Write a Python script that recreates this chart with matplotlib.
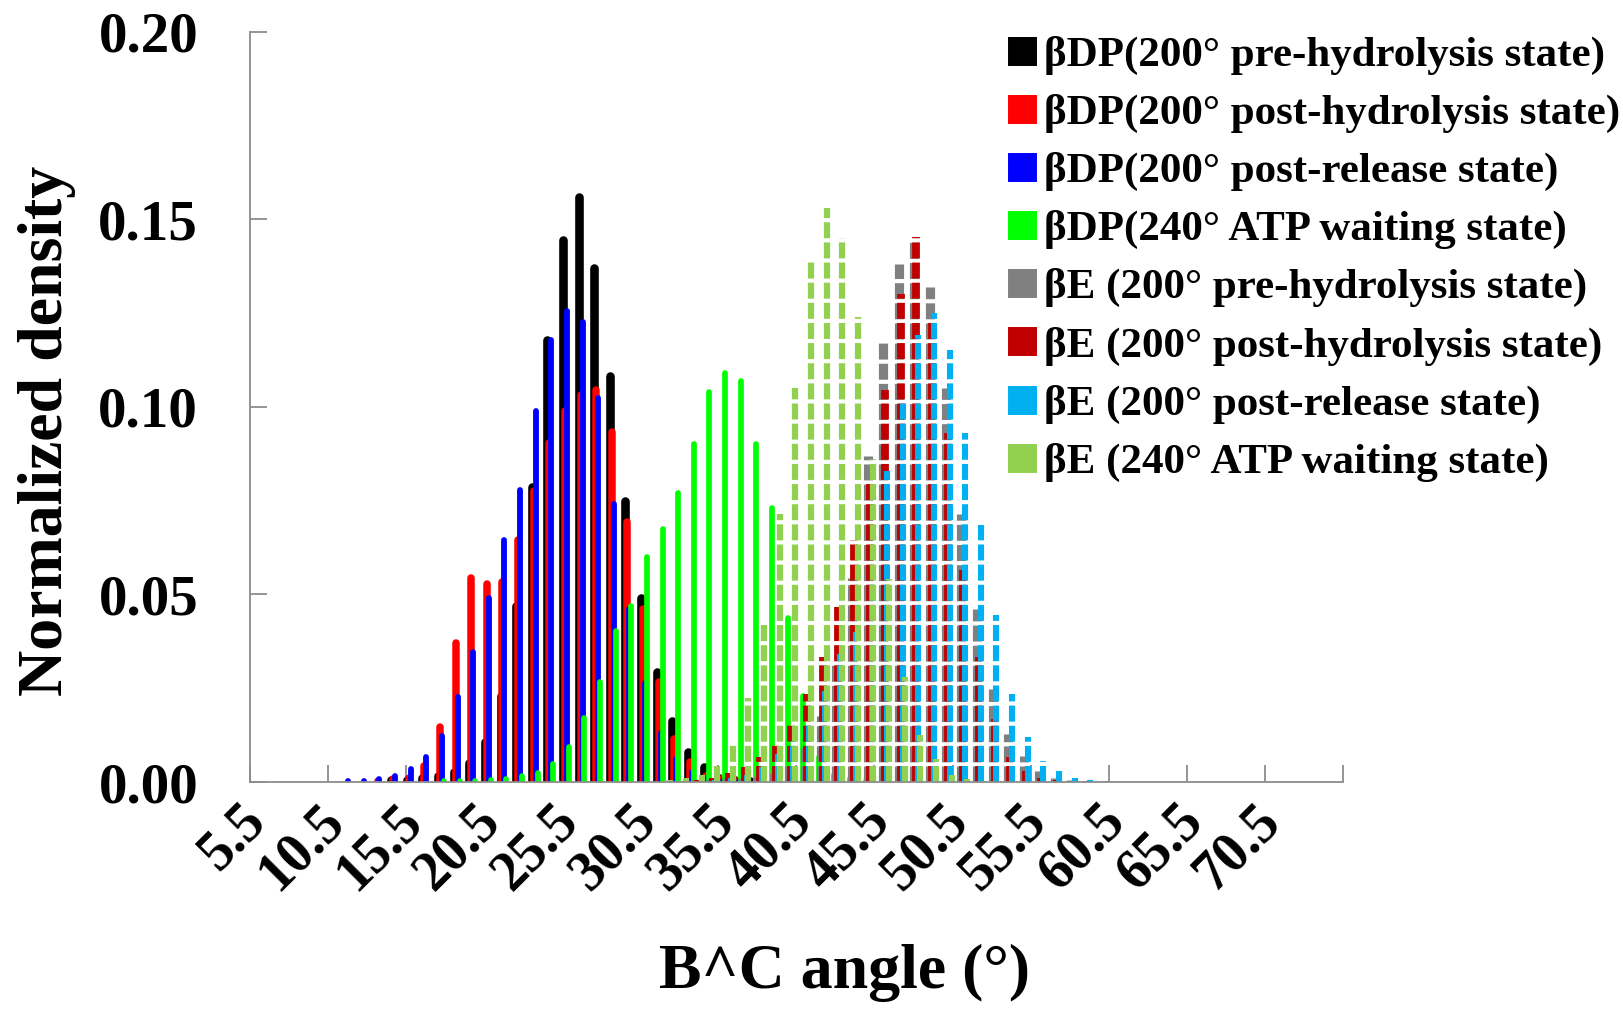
import matplotlib

matplotlib.use("Agg")
import matplotlib.pyplot as plt  # noqa: E402
import numpy as np  # noqa: E402
from matplotlib.lines import Line2D  # noqa: E402

# bin centres (degrees), one column per series in each bin
angles = np.arange(11.5, 61.0, 1.0)

dp_pre = [0, 0, 0, 0.0005, 0.0005, 0.0010, 0.0016, 0.0027, 0.0050, 0.0106,
          0.0228, 0.0470, 0.0786, 0.1178, 0.1444, 0.1559, 0.1369, 0.1082, 0.0750, 0.0490,
          0.0292, 0.0163, 0.0080, 0.0039, 0.0012, 0.0005, 0.0002, 0, 0, 0,
          0, 0, 0, 0, 0, 0, 0, 0, 0, 0,
          0, 0, 0, 0, 0, 0, 0, 0, 0, 0]
dp_post = [0, 0, 0.0003, 0.0008, 0.0010, 0.0044, 0.0148, 0.0370, 0.0544, 0.0527,
           0.0532, 0.0645, 0.0775, 0.0903, 0.0988, 0.1032, 0.1045, 0.0932, 0.0693, 0.0462,
           0.0266, 0.0114, 0.0054, 0.0017, 0.0008, 0.0003, 0, 0, 0, 0,
           0, 0, 0, 0, 0, 0, 0, 0, 0, 0,
           0, 0, 0, 0, 0, 0, 0, 0, 0, 0]
dp_release = [0.0003, 0.0003, 0.0009, 0.0015, 0.0035, 0.0068, 0.0122, 0.0226, 0.0346, 0.0490,
              0.0645, 0.0777, 0.0988, 0.1178, 0.1256, 0.1227, 0.1023, 0.0741, 0.0460, 0.0263,
              0.0132, 0.0061, 0.0026, 0.0010, 0.0004, 0.0002, 0, 0, 0, 0,
              0, 0, 0, 0, 0, 0, 0, 0, 0, 0,
              0, 0, 0, 0, 0, 0, 0, 0, 0, 0]
dp_240 = [0, 0, 0, 0, 0, 0, 0.0002, 0.0002, 0.0003, 0.0005,
          0.0008, 0.0016, 0.0025, 0.0048, 0.0093, 0.0170, 0.0266, 0.0402, 0.0470, 0.0600,
          0.0675, 0.0770, 0.0900, 0.1040, 0.1090, 0.1070, 0.0900, 0.0731, 0.0436, 0.0228,
          0.0068, 0.0020, 0.0008, 0.0003, 0, 0, 0, 0, 0, 0,
          0, 0, 0, 0, 0, 0, 0, 0, 0, 0]
e_pre = [0, 0, 0, 0, 0, 0, 0, 0, 0, 0,
         0, 0, 0, 0, 0, 0, 0, 0, 0, 0,
         0, 0.0003, 0.0005, 0.0008, 0.0010, 0.0012, 0.0015, 0.0025, 0.0050, 0.0090,
         0.0176, 0.0323, 0.0543, 0.0868, 0.1170, 0.1380, 0.1440, 0.1320, 0.1050, 0.0713,
         0.0460, 0.0249, 0.0128, 0.0070, 0.0030, 0.0012, 0.0006, 0.0003, 0.0002, 0.0002]
e_post = [0, 0, 0, 0, 0, 0, 0, 0, 0, 0,
          0, 0, 0, 0, 0, 0, 0, 0, 0, 0,
          0, 0, 0.0005, 0.0010, 0.0025, 0.0040, 0.0066, 0.0098, 0.0155, 0.0235,
          0.0333, 0.0466, 0.0645, 0.0801, 0.1045, 0.1300, 0.1453, 0.1230, 0.0930, 0.0566,
          0.0332, 0.0168, 0.0066, 0.0030, 0.0012, 0.0006, 0.0004, 0.0002, 0, 0]
e_release = [0, 0, 0, 0, 0, 0, 0, 0, 0, 0,
             0, 0, 0, 0, 0, 0, 0, 0, 0, 0,
             0, 0, 0, 0.0005, 0.0010, 0.0020, 0.0040, 0.0075, 0.0110, 0.0160,
             0.0243, 0.0340, 0.0400, 0.0530, 0.0828, 0.1014, 0.1190, 0.1250, 0.1150, 0.0930,
             0.0684, 0.0444, 0.0234, 0.0119, 0.0057, 0.0030, 0.0012, 0.0006, 0.0003, 0]
e_240 = [0, 0, 0, 0, 0, 0, 0, 0, 0, 0,
         0, 0, 0, 0, 0, 0, 0, 0, 0, 0,
         0.0005, 0.0010, 0.0020, 0.0043, 0.0104, 0.0223, 0.0427, 0.0714, 0.1050, 0.1390,
         0.1530, 0.1450, 0.1240, 0.0860, 0.0540, 0.0280, 0.0125, 0.0062, 0.0020, 0.0008,
         0.0003, 0, 0, 0, 0, 0, 0, 0, 0, 0]

labels = [
    "βDP(200° pre-hydrolysis state)",
    "βDP(200° post-hydrolysis state)",
    "βDP(200° post-release state)",
    "βDP(240° ATP waiting state)",
    "βE (200° pre-hydrolysis state)",
    "βE (200° post-hydrolysis state)",
    "βE (200° post-release state)",
    "βE (240° ATP waiting state)",
]
series = [dp_pre, dp_post, dp_release, dp_240, e_pre, e_post, e_release, e_240]
colors = ["#000000", "#FF0000", "#0000FF", "#00FF00", "#808080", "#C00000", "#00B0F0", "#92D050"]
widths = [6.2, 5.4, 4.2, 4.1, 6.6, 5.6, 4.4, 4.5]
dashed = [False, False, False, False, True, True, True, True]

tick_labels = ["5.5", "10.5", "15.5", "20.5", "25.5", "30.5", "35.5",
               "40.5", "45.5", "50.5", "55.5", "60.5", "65.5", "70.5"]

plt.rcParams["font.family"] = ["Liberation Serif", "DejaVu Serif"]
plt.rcParams["font.weight"] = "bold"
plt.rcParams["lines.scale_dashes"] = False

axis_grey = "#8c8c8c"

fig = plt.figure(figsize=(16.24, 10.10), dpi=100)
ax = fig.add_axes([0.1537, 0.2257, 0.6733, 0.7431])

n = len(series)
step = 1.0 / n
for i, vals in enumerate(series):
    v = np.asarray(vals, dtype=float)
    keep = v > 0
    x = angles[keep] + (i - (n - 1) / 2) * step
    if dashed[i]:
        lc = ax.vlines(x, 0, v[keep], colors=colors[i], linewidth=widths[i],
                       linestyles=[(0, (11.5, 3.0))])
        lc.set_capstyle("butt")
    else:
        lc = ax.vlines(x, 0, v[keep], colors=colors[i], linewidth=widths[i])
        lc.set_capstyle("round")

ax.set_xlim(5, 75)
ax.set_ylim(0, 0.2)

ax.set_xticks([float(t) for t in tick_labels])
ax.set_xticklabels(tick_labels, rotation=45, ha="right", va="center",
                   rotation_mode="anchor", fontsize=40, fontweight="bold")
ax.set_xticks(np.arange(5, 76, 5), minor=True)
ax.tick_params(axis="x", which="major", length=0, pad=22)
ax.tick_params(axis="x", which="minor", direction="in", length=12, width=1.3, color=axis_grey)

ax.set_yticks([0, 0.05, 0.10, 0.15, 0.20])
ax.set_yticklabels(["0.00", "0.05", "0.10", "0.15", "0.20"], fontsize=41, fontweight="bold")
ax.tick_params(axis="y", direction="in", length=12, width=1.3, color=axis_grey, pad=37)

for side in ("top", "right"):
    ax.spines[side].set_visible(False)
for side in ("left", "bottom"):
    ax.spines[side].set_color(axis_grey)
    ax.spines[side].set_linewidth(1.3)

ax.set_xlabel("B^C angle (°)", fontsize=46, fontweight="bold", va="center")
ax.xaxis.set_label_coords(0.5445, -0.2545)
ax.set_ylabel("Normalized density", fontsize=46, fontweight="bold", va="center")
ax.yaxis.set_label_coords(-0.1857, 0.4677)

handles = [Line2D([], [], linestyle="none", marker="s", markersize=16,
                  markerfacecolor=c, markeredgecolor=c, markeredgewidth=5)
           for c in colors]
for h in handles:
    h.set_solid_joinstyle("round")
leg = fig.legend(handles, labels, loc="upper left", bbox_to_anchor=(0.621, 0.9645),
                 frameon=False, borderpad=0, borderaxespad=0, handlelength=0.65,
                 handletextpad=0.18, labelspacing=0.44,
                 prop={"family": "Liberation Serif", "weight": "bold", "size": 31})

fig.savefig("out.png", dpi=100)
